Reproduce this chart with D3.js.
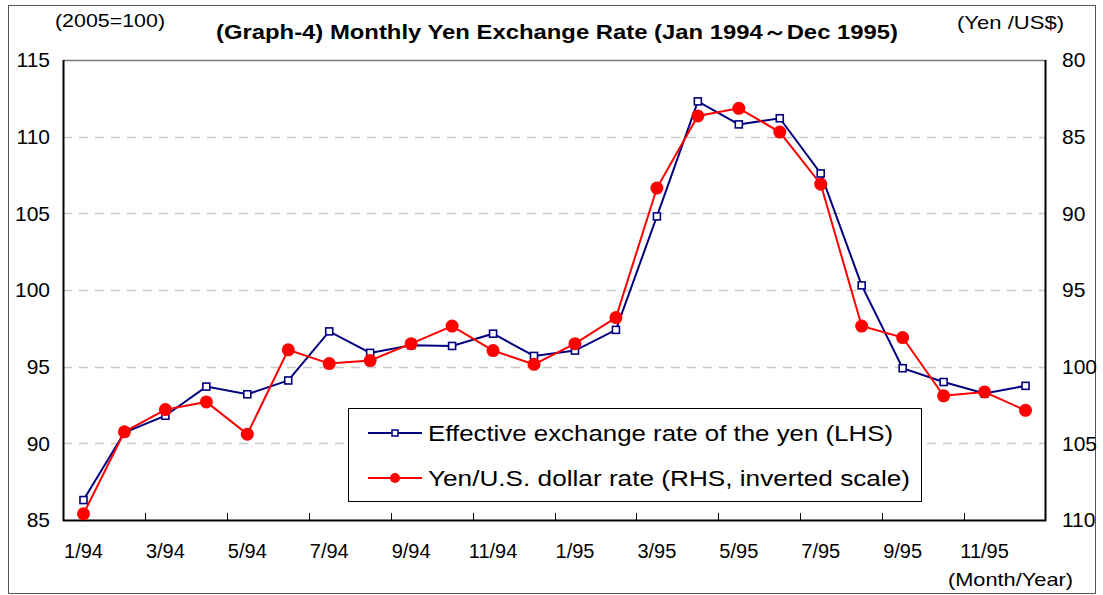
<!DOCTYPE html>
<html>
<head>
<meta charset="utf-8">
<script src="https://cdn.jsdelivr.net/npm/d3@7/dist/d3.min.js"></script>
<style>
  body { margin: 0; background: #fff; }
  svg text { font-family: "Liberation Sans", Arial, sans-serif; fill: #000; }
</style>
</head>
<body>
<svg id="chart" width="1103" height="595"></svg>
<script>
// months on the category axis
var months = ["1/94","2/94","3/94","4/94","5/94","6/94","7/94","8/94","9/94","10/94","11/94","12/94",
              "1/95","2/95","3/95","4/95","5/95","6/95","7/95","8/95","9/95","10/95","11/95","12/95"];

// effective exchange rate of the yen, 2005=100 (LHS)
var effectiveRate = [86.3, 90.7, 91.8, 93.7, 93.2, 94.1, 97.3, 95.9, 96.4, 96.35, 97.15, 95.7,
                     96.05, 97.4, 104.8, 112.3, 110.8, 111.2, 107.6, 100.3, 94.9, 94.0, 93.25, 93.75];

// yen per US dollar (RHS, inverted)
var yenDollar = [109.6, 104.25, 102.8, 102.3, 104.4, 98.9, 99.8, 99.6, 98.5, 97.35, 98.95, 99.85,
                 98.5, 96.8, 88.35, 83.65, 83.15, 84.7, 88.1, 97.35, 98.1, 101.9, 101.65, 102.85];

var leftTicks = [85, 90, 95, 100, 105, 110, 115];
var rightTicks = [80, 85, 90, 95, 100, 105, 110];

var svg = d3.select("#chart");

var plotLeft = 63, plotRight = 1046, plotTop = 60, plotBottom = 520;

var x = d3.scaleBand().domain(months).range([plotLeft, plotRight]);
var yL = d3.scaleLinear().domain([85, 115]).range([plotBottom, plotTop]);
var yR = d3.scaleLinear().domain([80, 110]).range([plotTop, plotBottom]);
function cx(m) { return x(m) + x.bandwidth() / 2; }

// outer frame
svg.append("rect")
    .attr("x", 8.5).attr("y", 5.5)
    .attr("width", 1087).attr("height", 588)
    .attr("fill", "white")
    .attr("stroke", "#555").attr("stroke-width", 1);

// dashed gridlines
svg.append("g").selectAll("line")
    .data(leftTicks.filter(function(d) { return d > 85 && d < 115; }))
    .enter().append("line")
    .attr("x1", plotLeft).attr("x2", plotRight)
    .attr("y1", function(d) { return Math.round(yL(d)) + 0.5; })
    .attr("y2", function(d) { return Math.round(yL(d)) + 0.5; })
    .attr("stroke", "#c8c8c8")
    .attr("stroke-width", 1.3)
    .attr("stroke-dasharray", "9,7");

// plot area top line
svg.append("line")
    .attr("x1", plotLeft).attr("x2", plotRight)
    .attr("y1", plotTop + 0.5).attr("y2", plotTop + 0.5)
    .attr("stroke", "#777").attr("stroke-width", 1.5);

// left axis labels
var leftAxis = d3.axisLeft(yL).tickValues(leftTicks).tickSize(0).tickPadding(13);
var gL = svg.append("g").attr("transform", "translate(" + plotLeft + ",0)").call(leftAxis);
gL.select(".domain").remove();
gL.selectAll("text").style("font-size", "21px");

// right axis labels
var rightAxis = d3.axisRight(yR).tickValues(rightTicks).tickSize(0).tickPadding(16);
var gR = svg.append("g").attr("transform", "translate(" + plotRight + ",0)").call(rightAxis);
gR.select(".domain").remove();
gR.selectAll("text").style("font-size", "21px");

// bottom axis labels, every other month
var bottomAxis = d3.axisBottom(x)
    .tickValues(months.filter(function(d, i) { return i % 2 == 0; }))
    .tickSize(0).tickPadding(24);
var gB = svg.append("g").attr("transform", "translate(0," + plotBottom + ")").call(bottomAxis);
gB.select(".domain").remove();
gB.selectAll("text").style("font-size", "20px");

// inward tick marks between every second month
var tickPos = months.filter(function(d, i) { return i % 2 == 0 && i > 0; });
svg.append("g").selectAll("line")
    .data(tickPos)
    .enter().append("line")
    .attr("x1", function(d) { return Math.round(x(d)) + 0.5; })
    .attr("x2", function(d) { return Math.round(x(d)) + 0.5; })
    .attr("y1", plotBottom).attr("y2", plotBottom - 7)
    .attr("stroke", "#000").attr("stroke-width", 1);

// axis lines
svg.append("line").attr("x1", plotLeft + 0.5).attr("x2", plotLeft + 0.5)
    .attr("y1", plotTop).attr("y2", plotBottom + 1).attr("stroke", "#000").attr("stroke-width", 2);
svg.append("line").attr("x1", plotRight - 0.5).attr("x2", plotRight - 0.5)
    .attr("y1", plotTop).attr("y2", plotBottom + 1).attr("stroke", "#000").attr("stroke-width", 2);
svg.append("line").attr("x1", plotLeft).attr("x2", plotRight)
    .attr("y1", plotBottom + 0.5).attr("y2", plotBottom + 0.5).attr("stroke", "#000").attr("stroke-width", 2);

// blue series
var lineL = d3.line().x(function(d, i) { return cx(months[i]); }).y(function(d) { return yL(d); });
svg.append("path")
    .datum(effectiveRate)
    .attr("d", lineL)
    .attr("fill", "none").attr("stroke", "#000080").attr("stroke-width", 2);

// red series
var lineR = d3.line().x(function(d, i) { return cx(months[i]); }).y(function(d) { return yR(d); });
svg.append("path")
    .datum(yenDollar)
    .attr("d", lineR)
    .attr("fill", "none").attr("stroke", "#ff0000").attr("stroke-width", 2);

svg.append("g").selectAll("rect")
    .data(effectiveRate)
    .enter().append("rect")
    .attr("x", function(d, i) { return cx(months[i]) - 3.5; })
    .attr("y", function(d) { return yL(d) - 3.5; })
    .attr("width", 7).attr("height", 7)
    .attr("fill", "white").attr("stroke", "#000080").attr("stroke-width", 1.6);

svg.append("g").selectAll("circle")
    .data(yenDollar)
    .enter().append("circle")
    .attr("cx", function(d, i) { return cx(months[i]); })
    .attr("cy", function(d) { return yR(d); })
    .attr("r", 6.5)
    .attr("fill", "#ff0000");

// legend
var legend = svg.append("g");
legend.append("rect")
    .attr("x", 348.5).attr("y", 408.5)
    .attr("width", 573).attr("height", 93)
    .attr("fill", "white").attr("stroke", "#000").attr("stroke-width", 1);

legend.append("line").attr("x1", 368).attr("x2", 422).attr("y1", 433).attr("y2", 433)
    .attr("stroke", "#000080").attr("stroke-width", 2);
legend.append("rect").attr("x", 392).attr("y", 430).attr("width", 6).attr("height", 6)
    .attr("fill", "white").attr("stroke", "#000080").attr("stroke-width", 1.5);
legend.append("text").attr("x", 428).attr("y", 433).attr("dy", "0.35em")
    .style("font-size", "22px")
    .attr("textLength", 465).attr("lengthAdjust", "spacingAndGlyphs")
    .text("Effective exchange rate of the yen (LHS)");

legend.append("line").attr("x1", 368).attr("x2", 422).attr("y1", 478).attr("y2", 478)
    .attr("stroke", "#ff0000").attr("stroke-width", 2);
legend.append("circle").attr("cx", 395).attr("cy", 478).attr("r", 5)
    .attr("fill", "#ff0000");
legend.append("text").attr("x", 428).attr("y", 478).attr("dy", "0.35em")
    .style("font-size", "22px")
    .attr("textLength", 482).attr("lengthAdjust", "spacingAndGlyphs")
    .text("Yen/U.S. dollar rate (RHS, inverted scale)");

// title and unit labels
svg.append("text")
    .attr("x", 216).attr("y", 39)
    .style("font-size", "21px").style("font-weight", "bold")
    .attr("textLength", 682).attr("lengthAdjust", "spacingAndGlyphs")
    .text("(Graph-4) Monthly Yen Exchange Rate (Jan 1994\uFF5EDec 1995)");

svg.append("text").attr("x", 55).attr("y", 27)
    .style("font-size", "19px")
    .attr("textLength", 110).attr("lengthAdjust", "spacingAndGlyphs")
    .text("(2005=100)");
svg.append("text").attr("x", 957).attr("y", 29)
    .style("font-size", "19px")
    .attr("textLength", 107).attr("lengthAdjust", "spacingAndGlyphs")
    .text("(Yen /US$)");
svg.append("text").attr("x", 948).attr("y", 586)
    .style("font-size", "19px")
    .attr("textLength", 125).attr("lengthAdjust", "spacingAndGlyphs")
    .text("(Month/Year)");
</script>
</body>
</html>
